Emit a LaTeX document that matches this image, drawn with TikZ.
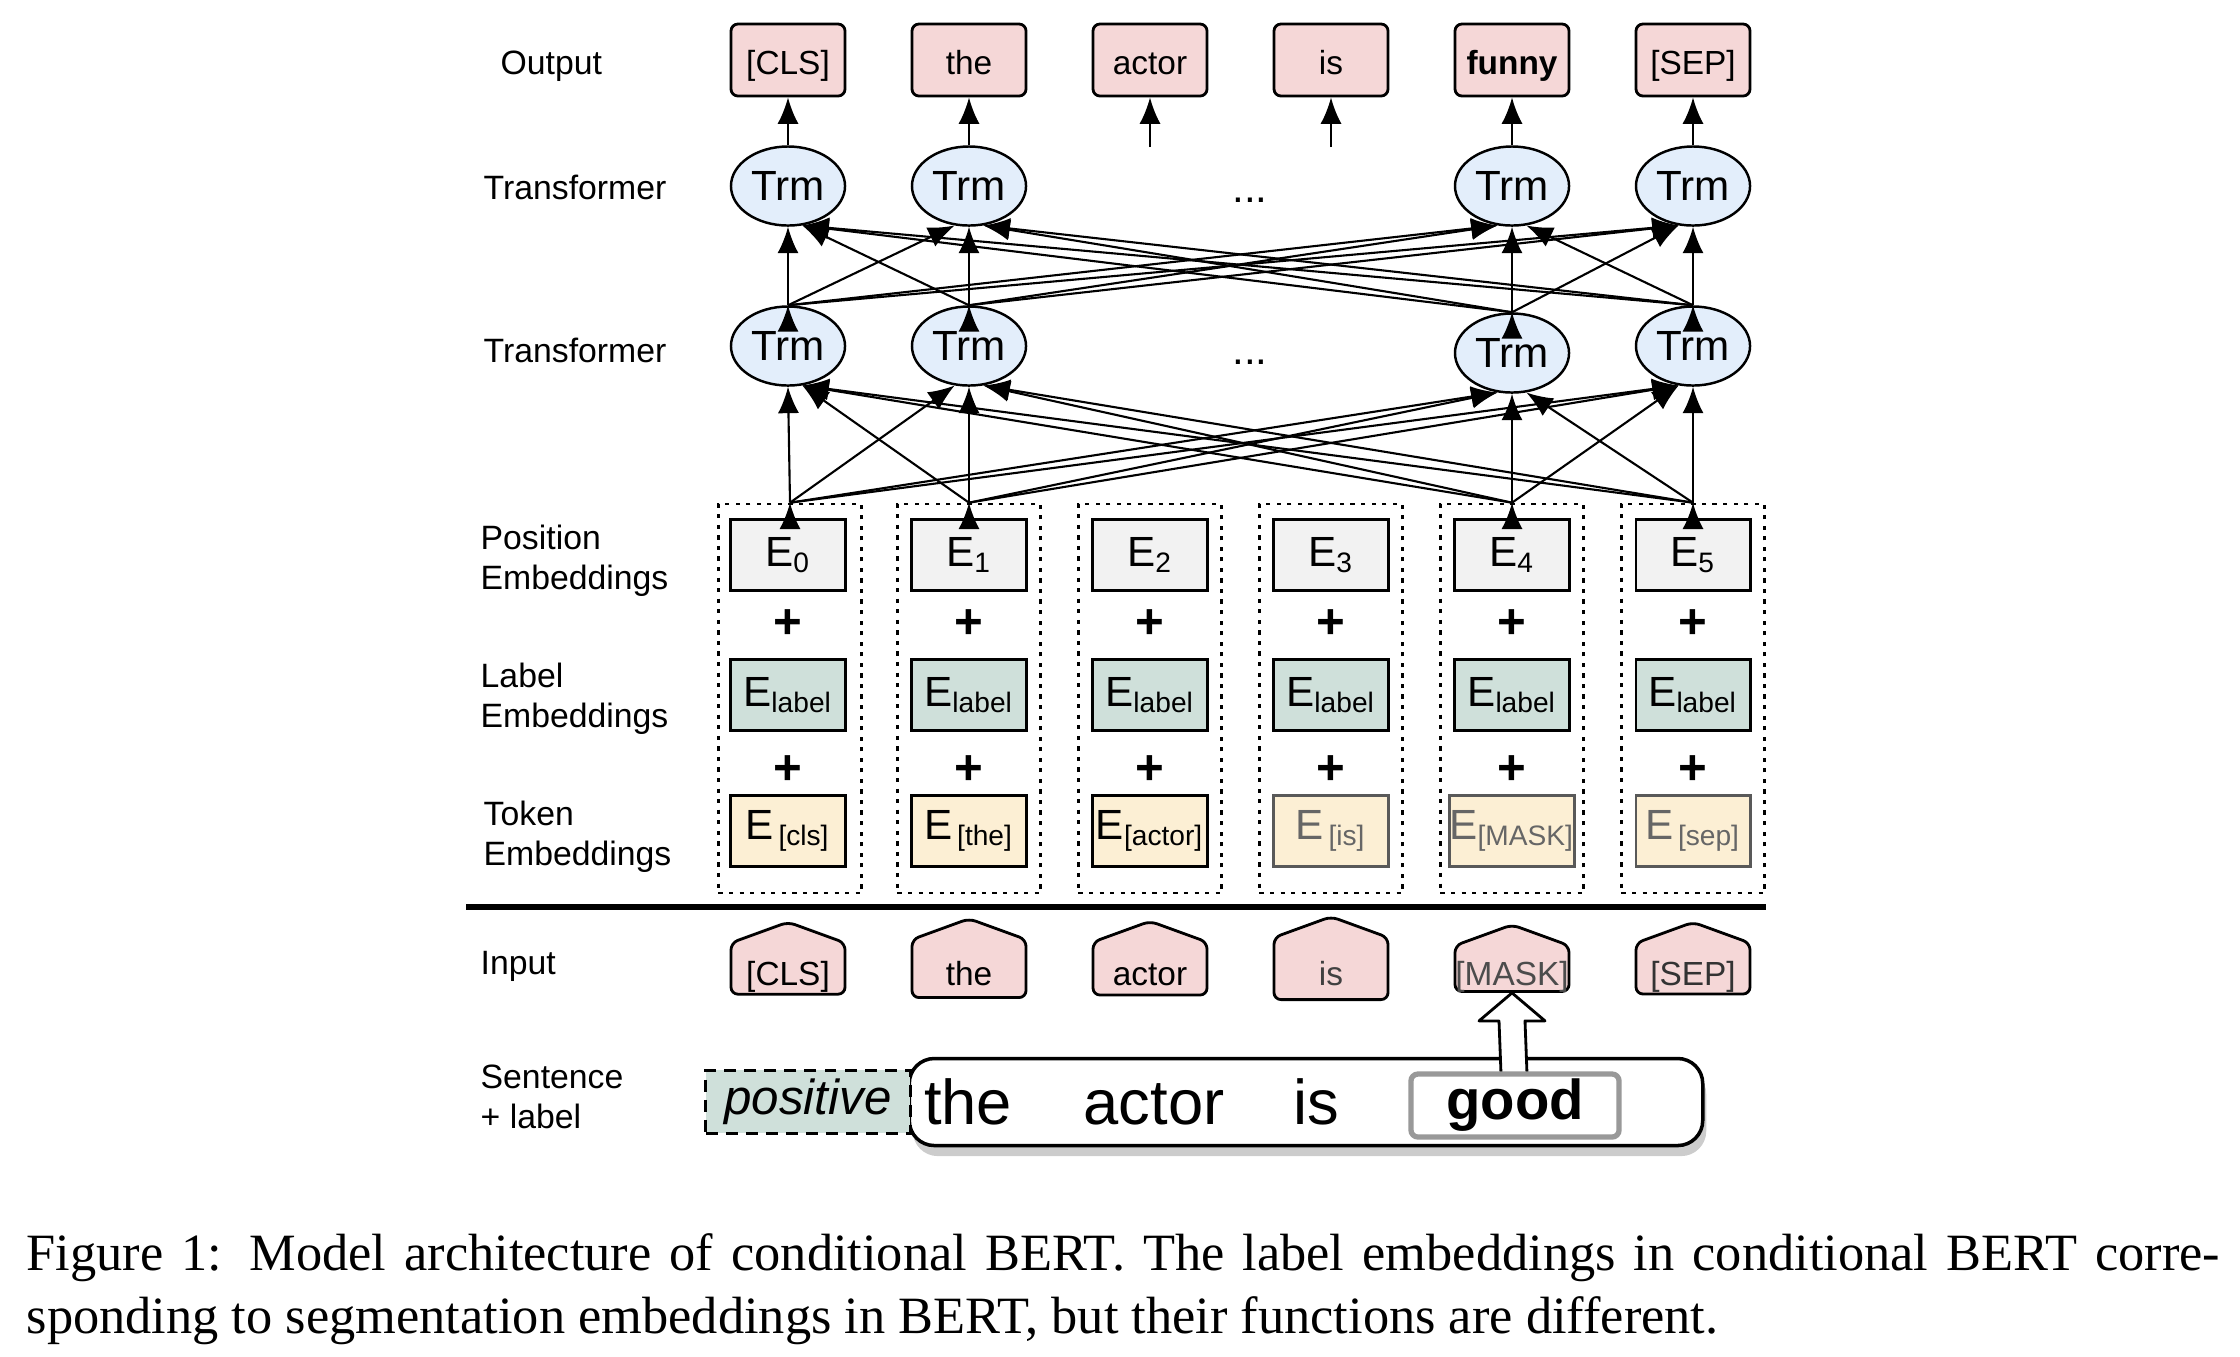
\documentclass[tikz,border=0pt]{standalone}
\usepackage{fontspec}
\usepackage{tikz}
\usetikzlibrary{shapes.geometric}
\usetikzlibrary{shapes.symbols}
\usetikzlibrary{arrows.meta}
\usetikzlibrary{shadows}
\usetikzlibrary{calc}
\setmainfont{Liberation Sans}
\newfontfamily\captionserif{Liberation Serif}
\definecolor{BERTPink}{HTML}{F5D7D7}
\definecolor{BERTBlue}{HTML}{E3EEFB}
\definecolor{BERTGrey}{HTML}{F2F2F2}
\definecolor{BERTGreen}{HTML}{CFE0DA}
\definecolor{BERTYellow}{HTML}{FCEFD4}

\begin{document}
\begin{tikzpicture}[
    x = 0.01cm,
    y = -0.01cm,
    trmarrow/.style = {-{Latex[length = 7.5pt, width = 6pt]}, line width = 0.6pt},
]
    \useasboundingbox (0, 0) rectangle (2240, 1356);

    % row names on the left
    \begin{scope}[
        every node/.style = {
            anchor    = west,
            align     = left,
            inner sep = 0pt,
            font      = \fontsize{9.6}{11.4}\selectfont,
        }
    ]
        \node (lblOutput)   at (500,   66) {Output};
        \node (lblTrmTop)   at (483,  187) {Transformer};
        \node (lblTrmLow)   at (483,  350) {Transformer};
        \node (lblPosition) at (480,  561) {Position\\Embeddings};
        \node (lblLabel)    at (480,  699) {Label\\Embeddings};
        \node (lblToken)    at (483,  837) {Token\\Embeddings};
        \node (lblInput)    at (480,  966) {Input};
        \node (lblSentence) at (480, 1097) {Sentence\\+ label};
    \end{scope}

    % output tokens
    \begin{scope}[
        every node/.style = {
            shape           = rectangle,
            draw,
            fill            = BERTPink,
            line width      = 0.8pt,
            rounded corners = 2pt,
            minimum width   = 1.14cm,
            minimum height  = 0.72cm,
            inner sep       = 0pt,
            text height     = 8.5pt,
            text depth      = 0pt,
            font            = \fontsize{9.5}{11}\selectfont,
        }
    ]
        \node (O1) at ( 788, 60) {[CLS]};
        \node (O2) at ( 969, 60) {the};
        \node (O3) at (1150, 60) {actor};
        \node (O4) at (1331, 60) {is};
        \node (O5) at (1512, 60) {\bfseries funny};
        \node (O6) at (1693, 60) {[SEP]};
    \end{scope}

    % transformer layers
    \begin{scope}[
        every node/.style = {
            shape          = ellipse,
            draw,
            fill           = BERTBlue,
            line width     = 0.7pt,
            minimum width  = 1.14cm,
            minimum height = 0.79cm,
            inner sep      = 0pt,
            font           = \fontsize{12}{14}\selectfont,
        }
    ]
        \node (TA1) at ( 788, 186) {Trm};
        \node (TA2) at ( 969, 186) {Trm};
        \node (TA5) at (1512, 186) {Trm};
        \node (TA6) at (1693, 186) {Trm};

        \node (TB1) at ( 788, 346) {Trm};
        \node (TB2) at ( 969, 346) {Trm};
        \node (TB5) at (1512, 353) {Trm};
        \node (TB6) at (1693, 346) {Trm};
    \end{scope}

    \node[font = \fontsize{12}{14}\selectfont] (dotsA) at (1250, 200) {...};
    \node[font = \fontsize{12}{14}\selectfont] (dotsB) at (1250, 362) {...};

    \coordinate (A3) at (1150, 147);
    \coordinate (A4) at (1331, 147);

    % one dotted frame per token
    \begin{scope}[
        every node/.style = {
            shape          = rectangle,
            draw,
            line width     = 0.7pt,
            dash pattern   = on 1.2pt off 1.8pt,
            minimum width  = 1.43cm,
            minimum height = 3.89cm,
            inner sep      = 0pt,
        }
    ]
        \node (D1) at ( 790, 698.5) {};
        \node (D2) at ( 969, 698.5) {};
        \node (D3) at (1150, 698.5) {};
        \node (D4) at (1331, 698.5) {};
        \node (D5) at (1512, 698.5) {};
        \node (D6) at (1693, 698.5) {};
    \end{scope}

    % embeddings
    \begin{scope}[
        every node/.style = {
            shape          = rectangle,
            draw,
            line width     = 0.85pt,
            minimum width  = 1.14cm,
            minimum height = 0.71cm,
            inner sep      = 0pt,
            font           = \fontsize{12}{14}\selectfont,
        }
    ]
        \node[fill = BERTGrey] (P1) at ( 788, 555) {E\textsubscript{0}};
        \node[fill = BERTGrey] (P2) at ( 969, 555) {E\textsubscript{1}};
        \node[fill = BERTGrey] (P3) at (1150, 555) {E\textsubscript{2}};
        \node[fill = BERTGrey] (P4) at (1331, 555) {E\textsubscript{3}};
        \node[fill = BERTGrey] (P5) at (1512, 555) {E\textsubscript{4}};
        \node[fill = BERTGrey] (P6) at (1693, 555) {E\textsubscript{5}};

        \node[fill = BERTGreen] (L1) at ( 788, 695) {E\textsubscript{label}};
        \node[fill = BERTGreen] (L2) at ( 969, 695) {E\textsubscript{label}};
        \node[fill = BERTGreen] (L3) at (1150, 695) {E\textsubscript{label}};
        \node[fill = BERTGreen] (L4) at (1331, 695) {E\textsubscript{label}};
        \node[fill = BERTGreen] (L5) at (1512, 695) {E\textsubscript{label}};
        \node[fill = BERTGreen] (L6) at (1693, 695) {E\textsubscript{label}};

        \node[fill = BERTYellow] (K1) at ( 788, 831) {E\textsubscript{\,[cls]}};
        \node[fill = BERTYellow] (K2) at ( 969, 831) {E\textsubscript{\,[the]}};
        \node[fill = BERTYellow] (K3) at (1150, 831) {E\textsubscript{[actor]}};
        \node[fill = BERTYellow, draw = black!65, text = black!60] (K4) at (1331, 831) {E\textsubscript{\,[is]}};
        \node[fill = BERTYellow, draw = black!65, text = black!60] (K5) at (1512, 831) {E\textsubscript{[MASK]}};
        \node[fill = BERTYellow, draw = black!65, text = black!60] (K6) at (1693, 831) {E\textsubscript{\,[sep]}};
    \end{scope}

    \begin{scope}[
        every node/.style = {
            inner sep = 0pt,
            font      = \fontsize{14}{14}\selectfont\bfseries,
        }
    ]
        \node (PA1) at ( 788, 624) {+};
        \node (PA2) at ( 969, 624) {+};
        \node (PA3) at (1150, 624) {+};
        \node (PA4) at (1331, 624) {+};
        \node (PA5) at (1512, 624) {+};
        \node (PA6) at (1693, 624) {+};

        \node (PB1) at ( 788, 770) {+};
        \node (PB2) at ( 969, 770) {+};
        \node (PB3) at (1150, 770) {+};
        \node (PB4) at (1331, 770) {+};
        \node (PB5) at (1512, 770) {+};
        \node (PB6) at (1693, 770) {+};
    \end{scope}

    % arrows
    \draw[trmarrow] (TA1) -- (O1);
    \draw[trmarrow] (TA2) -- (O2);
    \draw[trmarrow] (A3)  -- (O3);
    \draw[trmarrow] (A4)  -- (O4);
    \draw[trmarrow] (TA5) -- (O5);
    \draw[trmarrow] (TA6) -- (O6);

    \draw[trmarrow] (TB1.north) edge (TA1.south) edge (TA2.-110) edge (TA5.-110) edge (TA6.-110);
    \draw[trmarrow] (TB2.north) edge (TA1.-70)   edge (TA2.south) edge (TA5.-110) edge (TA6.-110);
    \draw[trmarrow] (TB5.north) edge (TA1.-70)   edge (TA2.-70)   edge (TA5.south) edge (TA6.-110);
    \draw[trmarrow] (TB6.north) edge (TA1.-70)   edge (TA2.-70)   edge (TA5.-70)   edge (TA6.south);

    \draw[trmarrow] (D1.north) edge (TB1.south) edge (TB2.-110) edge (TB5.-110) edge (TB6.-110);
    \draw[trmarrow] (D2.north) edge (TB1.-70)   edge (TB2.south) edge (TB5.-110) edge (TB6.-110);
    \draw[trmarrow] (D5.north) edge (TB1.-70)   edge (TB2.-70)   edge (TB5.south) edge (TB6.-110);
    \draw[trmarrow] (D6.north) edge (TB1.-70)   edge (TB2.-70)   edge (TB5.-70)   edge (TB6.south);

    \draw[line width = 1.6pt] (466, 907) -- (1766, 907);

    % input tokens
    \begin{scope}[
        every node/.style = {
            shape                = signal,
            signal to            = north,
            signal from          = nowhere,
            signal pointer angle = 140,
            draw,
            fill                 = BERTPink,
            line width           = 0.8pt,
            rounded corners      = 2pt,
            minimum width        = 1.14cm,
            minimum height       = 0.665cm,
            inner sep            = 0pt,
            text height          = 9.5pt,
            text depth           = 0pt,
            font                 = \fontsize{9.5}{11}\selectfont,
        }
    ]
        \node (I1) at ( 788, 968.5) {[CLS]};
        \node (I2) at ( 969, 968.5) {the};
        \node (I3) at (1150, 968.5) {actor};
        \node[text = black!75] (I4) at (1331, 968.5) {is};
        \node[text = black!70] (I5) at (1512, 968.5) {[MASK]};
        \node[text = black!80] (I6) at (1693, 968.5) {[SEP]};
    \end{scope}

    % sentence with its label
    \node[
        draw,
        fill            = white,
        line width      = 1pt,
        rounded corners = 0.25cm,
        minimum width   = 7.93cm,
        minimum height  = 0.87cm,
        drop shadow     = {shadow xshift = 1pt, shadow yshift = -3pt, opacity = 0.4},
    ] (sentence) at (1306, 1102) {};

    \node[
        draw,
        fill           = BERTGreen,
        line width     = 0.85pt,
        dash pattern   = on 3.4pt off 2.3pt,
        minimum width  = 2.04cm,
        minimum height = 0.63cm,
        inner sep      = 0pt,
        font           = \fontsize{14}{16}\selectfont\itshape,
    ] (positive) at (808, 1101.5) {positive};

    \begin{scope}[
        every node/.style = {
            anchor    = base,
            inner sep = 0pt,
            font      = \fontsize{18}{20}\selectfont,
        }
    ]
        \node (wThe)   at ( 968, 1124) {the};
        \node (wActor) at (1154, 1124) {actor};
        \node (wIs)    at (1316, 1124) {is};
    \end{scope}

    \coordinate (tip) at (I5.south);
    \draw[fill = white, line width = 0.8pt, line join = round]
        (1501, 1074) -- ($(tip) + (-13, 28)$) -- ($(tip) + (-33, 28)$) -- (tip)
        -- ($(tip) + (33, 28)$) -- ($(tip) + (13, 28)$) -- (1527, 1074) -- cycle;

    \node[
        draw            = black!40,
        fill            = white,
        line width      = 1.5pt,
        rounded corners = 2pt,
        minimum width   = 2.08cm,
        minimum height  = 0.63cm,
        inner sep       = 0pt,
        font            = \fontsize{16}{18}\selectfont\bfseries,
    ] (good) at (1515, 1105.5) {good};

    % caption
    \node[
        anchor     = north west,
        text width = 21.92cm,
        align      = justify,
        inner sep  = 0pt,
        font       = \captionserif\fontsize{14.9}{17.9}\selectfont,
    ] (caption) at (26, 1233) {Figure 1: Model architecture of conditional BERT. The label embeddings in conditional BERT corre-\linebreak sponding to segmentation embeddings in BERT, but their functions are different.};
\end{tikzpicture}
\end{document}
